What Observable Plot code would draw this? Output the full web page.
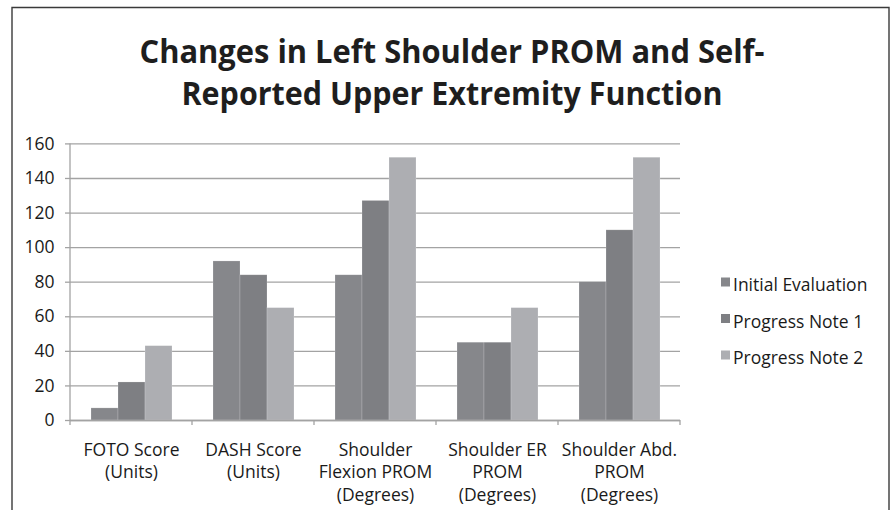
<!DOCTYPE html>
<html><head><meta charset="utf-8">
<script src="https://cdn.jsdelivr.net/npm/d3@7"></script>
<script src="https://cdn.jsdelivr.net/npm/@observablehq/plot@0.6"></script>
<style>
html,body{margin:0;padding:0;background:#fff;}
#chart{position:relative;width:891px;height:510px;overflow:hidden;background:#fff;font-family:"Open Sans",sans-serif;}
#chart > svg{position:absolute;left:0;top:0;}
</style></head><body><div id="chart"></div>
<script>
const categories = ["FOTO Score\n(Units)", "DASH Score\n(Units)", "Shoulder\nFlexion PROM\n(Degrees)", "Shoulder ER\nPROM\n(Degrees)", "Shoulder Abd.\nPROM\n(Degrees)"];
const seriesNames = ["Initial Evaluation", "Progress Note 1", "Progress Note 2"];
const initialEvaluation = [7, 92, 84, 45, 80];
const progressNote1 = [22, 84, 127, 45, 110];
const progressNote2 = [43, 65, 152, 65, 152];
const seriesColors = ["#86878b", "#7e7f83", "#adaeb2"];
const yTicks = [0, 20, 40, 60, 80, 100, 120, 140, 160];
const titleLines = ["Changes in Left Shoulder PROM and Self-", "Reported Upper Extremity Function"];

const seriesValues = [initialEvaluation, progressNote1, progressNote2];
const data = categories.flatMap((c, i) => seriesNames.map((s, j) => ({category: c, series: s, value: seriesValues[j][i]})));

const plot = Plot.plot({
  width: 891, height: 510,
  marginLeft: 68, marginRight: 209, marginTop: 143.4, marginBottom: 90,
  style: {background: "transparent", fontFamily: "'Open Sans', sans-serif", fontSize: "17.5px", color: "#1a1a1a", overflow: "visible"},
  fx: {domain: categories, padding: 0, axis: null, label: null},
  x: {domain: seriesNames, paddingInner: 0, paddingOuter: 0.745, axis: null, label: null},
  y: {domain: [0, 160], axis: null, label: null},
  color: {domain: seriesNames, range: seriesColors},
  marks: [
    Plot.gridY(yTicks, {stroke: "#a3a3a3", strokeOpacity: 1, strokeWidth: 1.3}),
    Plot.barY(data, {fx: "category", x: "series", y: "value", fill: "series", stroke: "#ffffff", strokeOpacity: 0.3, strokeWidth: 0.6}),
    Plot.ruleY([0], {stroke: "#a3a3a3", strokeWidth: 1.3}),
    Plot.axisY(yTicks, {tickSize: 5, tickPadding: 11, stroke: "#a3a3a3", strokeWidth: 1.3, fill: "#1a1a1a", fontSize: 17.5, label: null}),
    Plot.axisFx({anchor: "bottom", tickSize: 0, tickPadding: 19, lineHeight: 1.3, fontSize: 17.5, fill: "#1a1a1a", label: null})
  ]
});
document.getElementById("chart").appendChild(plot);

// y-axis line and category boundary ticks from the library's scales
const fxS = plot.scale("fx"), yS = plot.scale("y");
const y0 = yS.apply(0), yTop = yS.apply(160);
const edges = categories.map(c => fxS.apply(c)).concat([fxS.apply(categories[categories.length - 1]) + fxS.bandwidth]);
const psvg = d3.select(plot);
psvg.append("line").attr("x1", edges[0]).attr("x2", edges[0]).attr("y1", yTop).attr("y2", y0)
  .attr("stroke", "#a3a3a3").attr("stroke-width", 1.3);
edges.forEach(e => psvg.append("line").attr("x1", e).attr("x2", e).attr("y1", y0).attr("y2", y0 + 5)
  .attr("stroke", "#a3a3a3").attr("stroke-width", 1.3));

// overlay: frame, title, legend
const ov = d3.select("#chart").append("svg").attr("width", 891).attr("height", 510)
  .style("font-family", "'Open Sans', sans-serif");
ov.append("path").attr("d", "M12,530V7.5H889V530").attr("fill", "none").attr("stroke", "#3a3a3a").attr("stroke-width", 1.4);
const titleWidths = [625, 541], titleBase = [63, 105];
titleLines.forEach((t, i) => ov.append("text").attr("x", 452).attr("y", titleBase[i]).attr("text-anchor", "middle")
  .attr("font-size", 33).attr("font-weight", 700).attr("fill", "#1e1e1e")
  .attr("textLength", titleWidths[i]).attr("lengthAdjust", "spacingAndGlyphs").text(t));
const legBase = [291, 327.5, 364];
seriesNames.forEach((s, i) => {
  ov.append("rect").attr("x", 721).attr("y", legBase[i] - 13.5).attr("width", 9).attr("height", 9).attr("fill", seriesColors[i]);
  ov.append("text").attr("x", 733).attr("y", legBase[i]).attr("font-size", 17.5).attr("fill", "#1a1a1a").text(s);
});
</script></body></html>
